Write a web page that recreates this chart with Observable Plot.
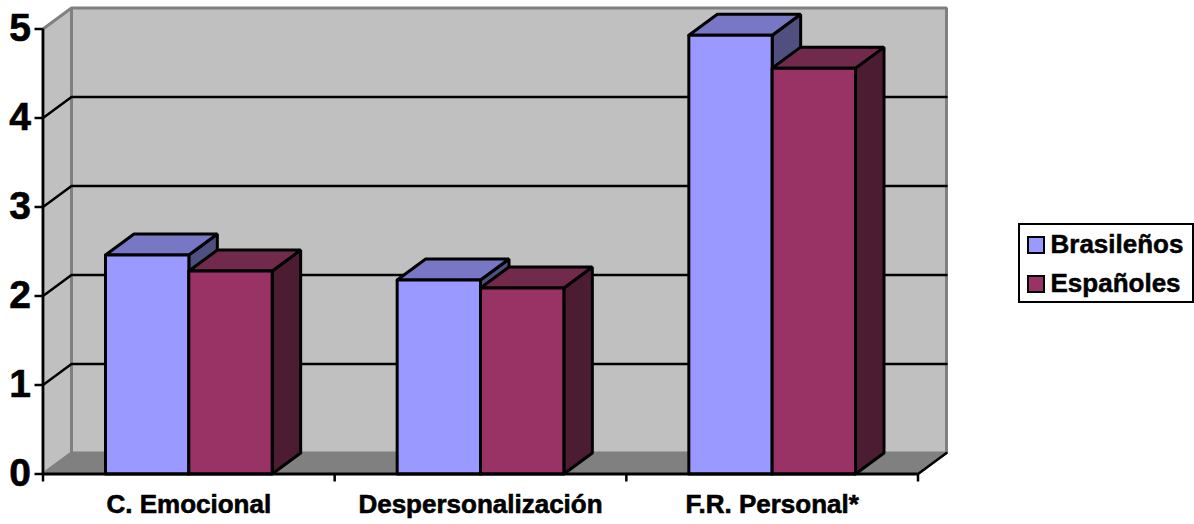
<!DOCTYPE html>
<html>
<head>
<meta charset="utf-8">
<script src="https://cdn.jsdelivr.net/npm/d3@7"></script>
<script src="https://cdn.jsdelivr.net/npm/@observablehq/plot@0.6"></script>
<style>
html,body{margin:0;padding:0;background:#fff;width:1194px;height:524px;overflow:hidden}
#chart{position:relative;width:1194px;height:524px;font-family:"Liberation Sans",Arial,sans-serif}
#chart svg{position:absolute;left:0;top:0;overflow:visible}
#chart svg text{stroke:#000;stroke-width:.6px}
#legend{position:absolute;left:1018px;top:223px;width:172px;height:76px;border:2.5px solid #000;box-sizing:content-box;background:#fff;font:bold 26px "Liberation Sans",Arial,sans-serif;color:#000;-webkit-text-stroke:.5px #000}
.row{position:absolute;left:6.5px;display:flex;align-items:center;height:20px;white-space:nowrap}
.sw{display:inline-block;box-sizing:border-box;width:18px;height:18px;border:2.5px solid #000;margin-right:6px}
</style>
</head>
<body>
<div id="chart"></div>
<script>
const categories = ["C. Emocional", "Despersonalización", "F.R. Personal*"];
const seriesNames = ["Brasileños", "Españoles"];
const brasilenos = [2.46, 2.18, 4.93];
const espanoles = [2.28, 2.09, 4.56];
const yTicks = [0, 1, 2, 3, 4, 5];
const frontColors = ["#9999FF", "#993366"];
const topColors = ["#7777C6", "#722A4C"];
const sideColors = ["#4F4F80", "#4C1C33"];

// Depth of the 3-D box and bar layout, in data units
const depthX = 0.0977, depthY = 0.236;
const barW = 1 / 3.5, barOffset = 0.75 * barW;

const faces = [];
function addFace(id, fill, pts) {
  [...pts, pts[0]].forEach(([x, y]) => faces.push({id, fill, x, y}));
}
categories.forEach((c, i) => {
  [brasilenos, espanoles].forEach((vals, s) => {
    const x0 = i + barOffset + s * barW, x1 = x0 + barW, v = vals[i];
    addFace(`side${i}${s}`, sideColors[s], [[x1, 0], [x1 + depthX, depthY], [x1 + depthX, v + depthY], [x1, v]]);
    addFace(`top${i}${s}`, topColors[s], [[x0, v], [x1, v], [x1 + depthX, v + depthY], [x0 + depthX, v + depthY]]);
    addFace(`front${i}${s}`, frontColors[s], [[x0, 0], [x1, 0], [x1, v], [x0, v]]);
  });
});

const nCat = categories.length, yMax = yTicks[yTicks.length - 1];
const toXY = (pts) => pts.map(([x, y]) => ({x, y}));
const backWall = toXY([[depthX, depthY], [nCat + depthX, depthY], [nCat + depthX, yMax + depthY], [depthX, yMax + depthY], [depthX, depthY]]);
const sideWall = toXY([[0, 0], [depthX, depthY], [depthX, yMax + depthY], [0, yMax], [0, 0]]);
const floorFace = toXY([[0, 0], [nCat, 0], [nCat + depthX, depthY], [depthX, depthY], [0, 0]]);
const gridPaths = yTicks.slice(1, -1).flatMap(t => [[0, t], [depthX, t + depthY], [nCat + depthX, t + depthY]].map(([x, y]) => ({t, x, y})));

const poly = (data, o) => Plot.line(data, {x: "x", y: "y", curve: "linear", strokeLinejoin: "miter", ...o});

const plot = Plot.plot({
  width: 1194,
  height: 524,
  marginLeft: 42.5,
  marginRight: 276.5,
  marginTop: 28.5,
  marginBottom: 50.5,
  style: {background: "transparent", overflow: "visible"},
  x: {type: "linear", domain: [0, nCat], axis: null},
  y: {type: "linear", domain: [0, yMax], axis: null},
  color: {type: "identity"},
  marks: [
    poly(backWall, {fill: "#C0C0C0", stroke: "#808080", strokeWidth: 3}),
    poly(sideWall, {fill: "#C0C0C0", stroke: "#808080", strokeWidth: 3}),
    poly(floorFace, {fill: "#808080", stroke: "#808080", strokeWidth: 2}),
    poly(gridPaths, {z: "t", stroke: "#000", strokeWidth: 2.5}),
    poly(toXY([[nCat, 0], [nCat + depthX, depthY]]), {stroke: "#000", strokeWidth: 2.5}),
    poly(faces, {z: "id", fill: "fill", stroke: "#000", strokeWidth: 3}),
    Plot.ruleX([0], {y1: 0, y2: yMax, stroke: "#000", strokeWidth: 2.5}),
    Plot.ruleY([0], {x1: 0, x2: nCat, stroke: "#000", strokeWidth: 3}),
    Plot.axisY({
      ticks: yTicks, tickSize: 8, tickPadding: 4, strokeWidth: 2.5,
      tickFormat: d3.format("d"),
      label: null, fontSize: 39, fontWeight: "bold", fontFamily: "Liberation Sans, Arial, sans-serif", color: "#000"
    }),
    Plot.axisX({ticks: d3.range(nCat + 1), tickSize: 8, tickFormat: () => "", label: null, strokeWidth: 2.5}),
    Plot.axisX({
      ticks: categories.map((c, i) => i + 0.5), tickSize: 0, tickPadding: 21,
      tickFormat: (d) => categories[Math.floor(d)], label: null,
      fontSize: 26, fontWeight: "bold", fontFamily: "Liberation Sans, Arial, sans-serif", color: "#000"
    })
  ]
});
const chartEl = document.getElementById("chart");
chartEl.appendChild(plot);

const legendEl = document.createElement("div");
legendEl.id = "legend";
seriesNames.forEach((name, i) => {
  const row = document.createElement("div");
  row.className = "row";
  row.style.top = (i === 0 ? 9.5 : 48.5) + "px";
  const sw = document.createElement("span");
  sw.className = "sw";
  sw.style.background = frontColors[i];
  row.appendChild(sw);
  row.appendChild(document.createTextNode(name));
  legendEl.appendChild(row);
});
chartEl.appendChild(legendEl);
</script>
</body>
</html>
